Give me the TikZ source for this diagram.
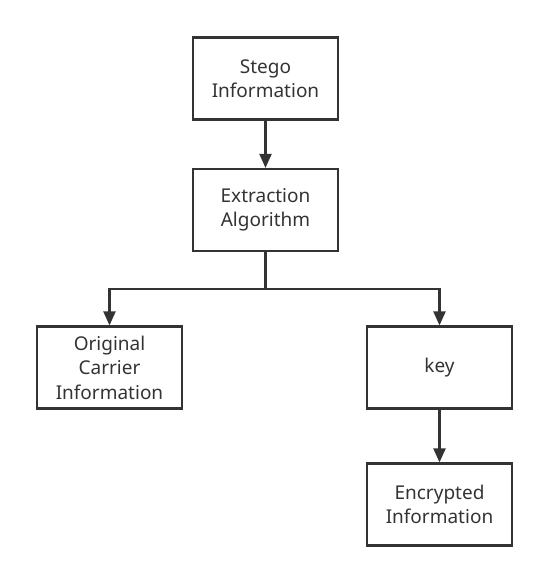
\documentclass[tikz,border=0pt]{standalone}
\usepackage{fontspec}
\setmainfont{Noto Sans}
\usetikzlibrary{arrows.meta}
\definecolor{ln}{HTML}{333333}
\begin{document}
\begin{tikzpicture}[x=1pt,y=-1pt,
  box/.style={draw=ln,line width=2.2pt,minimum width=145pt,minimum height=82pt,align=center,font=\fontsize{19}{24.5}\selectfont,text=ln,inner sep=0pt},
  arr/.style={draw=ln,line width=2.2pt,-{Triangle[length=14pt,width=12pt]}}]
\useasboundingbox (0,0) rectangle (549,582);
\node[box] (stego) at (265.5,78.5) {Stego\\Information};
\node[box] (extr) at (265.5,210) {Extraction\\Algorithm};
\node[box] (orig) at (109.5,367.5) {Original\\Carrier\\Information};
\node[box] (key) at (439.5,367.5) {key};
\node[box] (enc) at (439.5,504.5) {Encrypted\\Information};
\coordinate (j) at (265.5,289);
\draw[arr] (stego) -- (extr);
\draw[draw=ln,line width=2.2pt] (extr.south) -- (j);
\draw[arr] (j) -| (orig.north);
\draw[arr] (j) -| (key.north);
\draw[arr] (key) -- (enc);
\end{tikzpicture}
\end{document}
